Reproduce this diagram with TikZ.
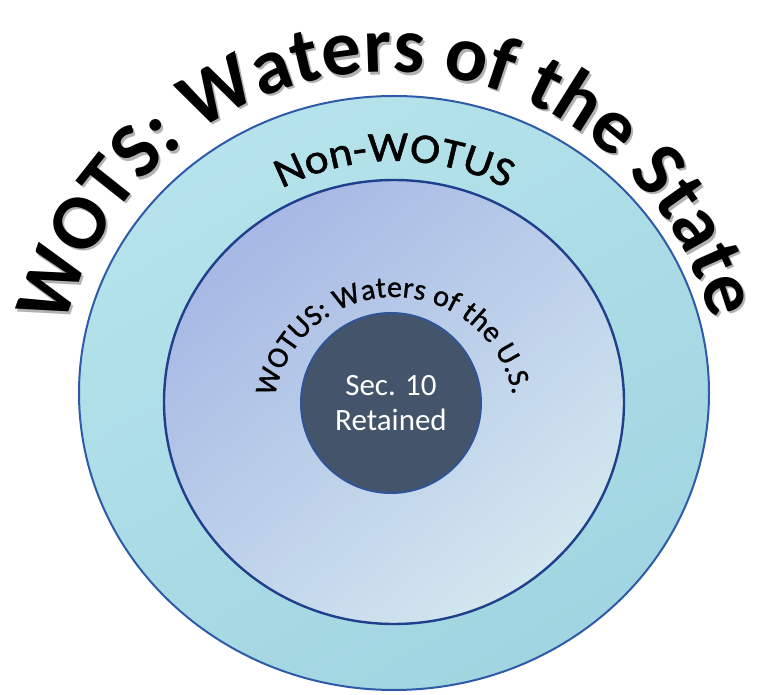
\documentclass[tikz,border=0pt]{standalone}
\usepackage{fontspec}
\setmainfont{Carlito}
\newfontfamily\widecarlito[FakeStretch=1.08, FakeBold=1.2]{Carlito}
\newfontfamily\heavycarlito[FakeBold=1]{Carlito}
\usetikzlibrary{decorations.text}

\definecolor{ringaqua}{HTML}{B6E3EB}
\definecolor{ringaquadark}{HTML}{A0D5E1}
\definecolor{ringline}{HTML}{2E5AA8}
\definecolor{midtop}{HTML}{A6B8E4}
\definecolor{midbot}{HTML}{D3E7EF}
\definecolor{midline}{HTML}{203F8C}
\definecolor{coreslate}{HTML}{44546A}
\definecolor{coreline}{HTML}{2F5597}

\newcommand{\wotsfont}{\fontsize{79}{79}\selectfont\bfseries}
\newcommand{\nonfont}{\widecarlito\fontsize{42}{42}\selectfont}
\newcommand{\wotusfont}{\heavycarlito\fontsize{30}{30}\selectfont}

\begin{document}
\begin{tikzpicture}[x=1pt, y=1pt]
  \tikzstyle{ring} = [line width=2pt]
  \tikzstyle{arctext} = [decorate]
  \tikzstyle{core} = [circle, minimum size=180, fill=coreslate, draw=coreline, line width=2pt, text=white, align=center, font=\fontsize{31}{35}\selectfont]

  \useasboundingbox (0,0) rectangle (766,694);
  \coordinate (cOut) at (394,301);
  \coordinate (cMid) at (394,292);
  \coordinate (cTop) at (389,289);
  \coordinate (cIn) at (394,276);

  % rings
  \shade[ring, draw=ringline, top color=ringaqua, bottom color=ringaquadark, shading angle=30] (cOut) ellipse [x radius=315, y radius=297];
  \shade[ring, draw=midline, line width=2.4pt, top color=midtop, bottom color=midbot, shading angle=40] (cMid) ellipse [x radius=230, y radius=222];
  \node (sec) [core] at (391,291) {Sec. 10\\Retained};

  % curved labels
  \path[arctext, decoration={text along path, text align=fit to path,
      text={|\color{black!30}\wotsfont|WOTS: Waters of the State}}]
    ([shift={(2,-2.5)}]cTop) ++(166.5:333) arc[start angle=166.5, end angle=14.8, radius=333];
  \path[arctext, decoration={text along path, text align=fit to path,
      text={|\wotsfont|WOTS: Waters of the State}}]
    (cTop) ++(166.5:333) arc[start angle=166.5, end angle=14.8, radius=333];
  \path[arctext, decoration={text along path, text align=center,
      text={|\nonfont|Non-WOTUS}}]
    (cMid) ++(150:241) arc[start angle=150, end angle=30, radius=241];
  \path[arctext, decoration={text along path, text align=fit to path,
      text={|\wotusfont|WOTUS: Waters of the U.S.}}]
    (cIn) ++(170:121) arc[start angle=170, end angle=11, radius=121];
\end{tikzpicture}
\end{document}
